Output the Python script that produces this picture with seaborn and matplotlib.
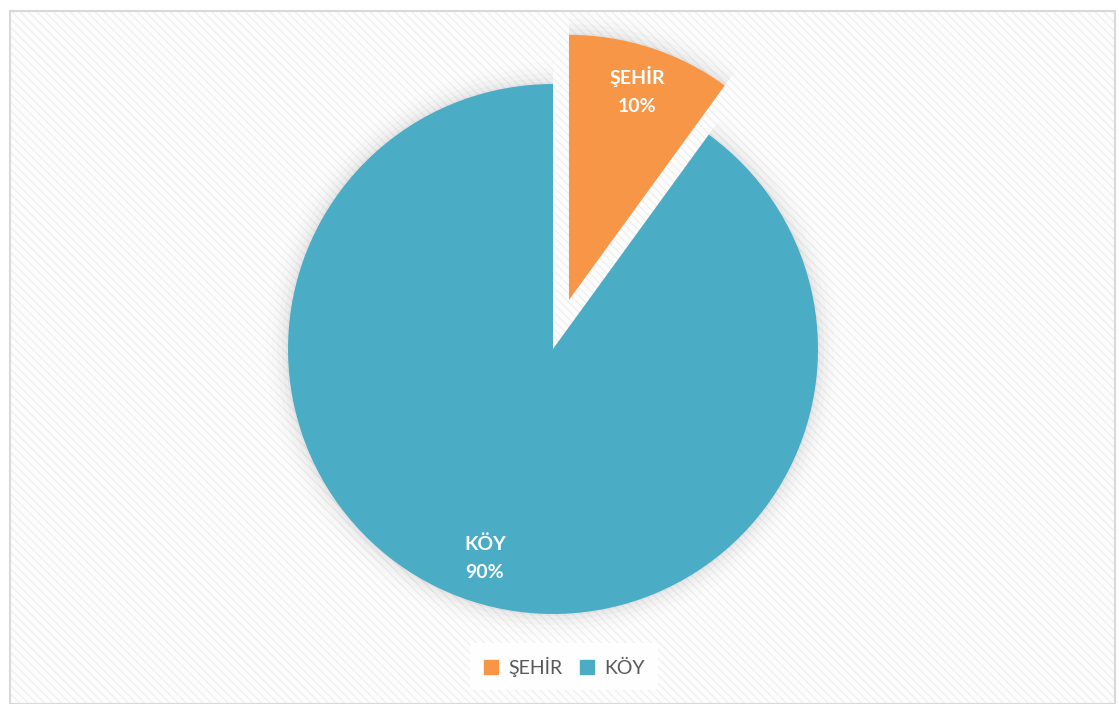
import matplotlib
matplotlib.use("Agg")
import matplotlib.pyplot as plt
from matplotlib.patches import Rectangle
import seaborn as sns

labels = ["ŞEHİR", "KÖY"]
values = [10, 90]
colors = ["#F79646", "#4BACC6"]

sns.set_theme(style="white")
plt.rcParams["font.family"] = ["Lato", "DejaVu Sans"]

fig = plt.figure(figsize=(11.19, 7.04), dpi=100)
fig.patch.set_facecolor("white")

# hatched backdrop + thin frame
fig.patches.append(Rectangle((0.009, 0.0), 0.987, 0.985, transform=fig.transFigure,
                             facecolor="#fdfdfd", edgecolor="#f0f0f0", hatch="\\\\\\\\",
                             linewidth=0, zorder=-5))
fig.patches.append(Rectangle((0.009, 0.0), 0.987, 0.985, transform=fig.transFigure,
                             facecolor="none", edgecolor="#d9d9d9", linewidth=1.5, zorder=5))

ax = fig.add_axes([0, 0, 1, 1])
ax.set_facecolor("none")

cx, cy, r = 553, 355, 265
# pie explode is in data units, so scale by radius
explode = [0.195 * r, 0]

# soft shadow
for k, a in [(22, 0.015), (16, 0.025), (11, 0.035), (6, 0.05), (2, 0.07)]:
    ax.pie(values, explode=explode, startangle=90,
           counterclock=False, center=(cx, cy), radius=r + k,
           colors=["#7f7f7f"] * 2, wedgeprops=dict(alpha=a, linewidth=0))

texts = ax.pie(values, explode=explode, startangle=90, counterclock=False,
               center=(cx, cy), radius=r, colors=colors,
               labels=[f"{l}\n{v}%" for l, v in zip(labels, values)],
               labeldistance=0.83, wedgeprops=dict(linewidth=0),
               textprops=dict(color="white", fontsize=14, fontweight="bold",
                              linespacing=1.75))[1]
for t in texts:
    t.set_ha("center")
    t.set_va("center")

ax.set_xlim(0, 1119)
ax.set_ylim(0, 704)
ax.set_aspect("equal")
ax.axis("off")

handles = [Rectangle((0, 0), 1, 1, color=c) for c in colors]
leg = ax.legend(handles, labels, loc="center", bbox_to_anchor=(0.504, 0.053),
                ncol=2, frameon=True, fontsize=14, handlelength=0.75, handleheight=0.75,
                handletextpad=0.5, columnspacing=0.9, borderpad=0.7)
leg.get_frame().set_facecolor("white")
leg.get_frame().set_edgecolor("none")
leg.get_frame().set_alpha(0.9)
for t in leg.get_texts():
    t.set_color("#595959")

fig.savefig("out.png", dpi=100)
